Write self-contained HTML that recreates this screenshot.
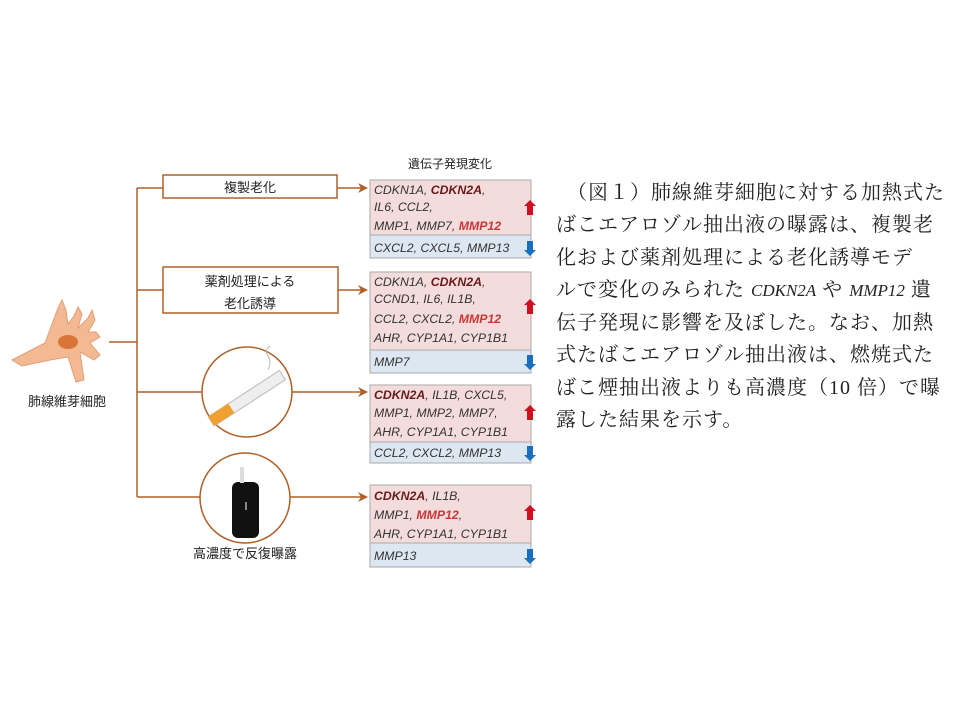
<!DOCTYPE html>
<html><head><meta charset="utf-8"><style>
body{margin:0;width:960px;height:720px;background:#fff;overflow:hidden;position:relative}
svg{position:absolute;left:0;top:0}
.t{position:absolute;left:556px;font-family:"Liberation Serif","Noto Serif CJK SC",serif;font-size:20px;letter-spacing:1px;color:#222;white-space:nowrap}
.t i{font-size:17px;letter-spacing:0}
</style></head><body>
<svg width="960" height="720" xmlns="http://www.w3.org/2000/svg" font-family="Liberation Sans, Noto Sans CJK JP, sans-serif">
<defs><marker id="a" markerWidth="10" markerHeight="10" refX="8" refY="5" orient="auto" markerUnits="userSpaceOnUse"><path d="M0,0 L10,5 L0,10 L3,5z" fill="#b0602a"/></marker>
<path id="up" d="M0,-8 L6,-2 L3,-2 L3,7 L-3,7 L-3,-2 L-6,-2Z" fill="#d01020"/>
<path id="dn" d="M0,8 L6,2 L3,2 L3,-7 L-3,-7 L-3,2 L-6,2Z" fill="#1a70c0"/>
</defs>
<g stroke="#b0602a" stroke-width="1.5" fill="none">
<path d="M109,342 H137 M137,188 V497"/>
<path d="M137,188 H163 M337,188 H366" marker-end="url(#a)"/>
<path d="M137,290 H163 M338,290 H366" marker-end="url(#a)"/>
<path d="M137,392 H202 M292,392 H366" marker-end="url(#a)"/>
<path d="M137,497 H200 M290,497 H366" marker-end="url(#a)"/>
<rect x="163" y="175" width="174" height="23" fill="#fff"/>
<rect x="163" y="267" width="175" height="46" fill="#fff"/>
<circle cx="247" cy="392" r="45" fill="#fff"/>
<circle cx="245" cy="498" r="45" fill="#fff"/>
</g>
<text x="250" y="192" font-size="13" text-anchor="middle" fill="#222">複製老化</text>
<text x="250" y="286" font-size="13" text-anchor="middle" fill="#222">薬剤処理による</text>
<text x="250" y="308" font-size="13" text-anchor="middle" fill="#222">老化誘導</text>
<text x="245" y="558" font-size="13" text-anchor="middle" fill="#222">高濃度で反復曝露</text>
<text x="67" y="406" font-size="13" text-anchor="middle" fill="#222">肺線維芽細胞</text>
<text x="450" y="168" font-size="12" text-anchor="middle" fill="#222">遺伝子発現変化</text>
<!-- cell -->
<path d="M12,360 L45,343 L58,308 L62,300 L66,310 L68,324 L74,316 L78,307 L82,314 L78,328 L88,318 L92,310 L95,320 L88,332 L96,332 L100,337 L90,343 L100,355 L94,360 L80,352 L84,380 L76,382 L68,357 L50,360 L22,366 Z" fill="#f2b992" stroke="#e0a07a" stroke-width="1"/>
<ellipse cx="68" cy="342" rx="10" ry="7" fill="#d8763a"/>
<!-- cigarette -->
<g transform="rotate(-33 245 400)"><rect x="205" y="394" width="85" height="11" fill="#eee" stroke="#bbb"/><rect x="205" y="394" width="24" height="11" fill="#f0a030"/></g>
<path d="M268,370 q4,-8 0,-14 q-4,-6 2,-10" stroke="#bbb" fill="none"/>
<!-- device -->
<rect x="232" y="482" width="27" height="56" rx="6" fill="#111"/>
<rect x="240" y="467" width="4" height="16" fill="#ddd"/>
<rect x="245" y="502" width="2" height="8" fill="#888"/>
<!-- gene boxes -->
<g stroke="#aaa" stroke-width="1">
<rect x="370" y="180" width="161" height="55" fill="#f4dcdc"/><rect x="370" y="235" width="161" height="23" fill="#dde7f2"/>
<rect x="370" y="272" width="161" height="78" fill="#f4dcdc"/><rect x="370" y="350" width="161" height="23" fill="#dde7f2"/>
<rect x="370" y="385" width="161" height="57" fill="#f4dcdc"/><rect x="370" y="442" width="161" height="21" fill="#dde7f2"/>
<rect x="370" y="485" width="161" height="58" fill="#f4dcdc"/><rect x="370" y="543" width="161" height="24" fill="#dde7f2"/>
</g>
<use href="#up" x="530" y="208"/><use href="#up" x="530" y="307"/><use href="#up" x="530" y="413"/><use href="#up" x="530" y="513"/>
<use href="#dn" x="530" y="248"/><use href="#dn" x="530" y="362"/><use href="#dn" x="530" y="453"/><use href="#dn" x="530" y="556"/>
<g font-size="12.3" font-style="italic" fill="#333">
<text x="374" y="194">CDKN1A, <tspan font-weight="bold" fill="#6a1a1a">CDKN2A</tspan>,</text>
<text x="374" y="211">IL6, CCL2,</text>
<text x="374" y="230">MMP1, MMP7, <tspan font-weight="bold" fill="#c83838">MMP12</tspan></text>
<text x="374" y="252">CXCL2, CXCL5, MMP13</text>
<text x="374" y="286">CDKN1A, <tspan font-weight="bold" fill="#6a1a1a">CDKN2A</tspan>,</text>
<text x="374" y="303">CCND1, IL6, IL1B,</text>
<text x="374" y="323">CCL2, CXCL2, <tspan font-weight="bold" fill="#c83838">MMP12</tspan></text>
<text x="374" y="342">AHR, CYP1A1, CYP1B1</text>
<text x="374" y="366">MMP7</text>
<text x="374" y="399"><tspan font-weight="bold" fill="#6a1a1a">CDKN2A</tspan>, IL1B, CXCL5,</text>
<text x="374" y="417">MMP1, MMP2, MMP7,</text>
<text x="374" y="436">AHR, CYP1A1, CYP1B1</text>
<text x="374" y="457">CCL2, CXCL2, MMP13</text>
<text x="374" y="500"><tspan font-weight="bold" fill="#6a1a1a">CDKN2A</tspan>, IL1B,</text>
<text x="374" y="519">MMP1, <tspan font-weight="bold" fill="#c83838">MMP12</tspan>,</text>
<text x="374" y="538">AHR, CYP1A1, CYP1B1</text>
<text x="374" y="560">MMP13</text>
</g>
</svg>
<div class="t" style="top:176px;left:567px">（図１）肺線維芽細胞に対する加熱式た</div>
<div class="t" style="top:208px">ばこエアロゾル抽出液の曝露は、複製老</div>
<div class="t" style="top:241px">化および薬剤処理による老化誘導モデ</div>
<div class="t" style="top:273px">ルで変化のみられた <i>CDKN2A</i> や <i>MMP12</i> 遺</div>
<div class="t" style="top:306px">伝子発現に影響を及ぼした。なお、加熱</div>
<div class="t" style="top:338px">式たばこエアロゾル抽出液は、燃焼式た</div>
<div class="t" style="top:371px">ばこ煙抽出液よりも高濃度（10 倍）で曝</div>
<div class="t" style="top:403px">露した結果を示す。</div>
</body></html>
